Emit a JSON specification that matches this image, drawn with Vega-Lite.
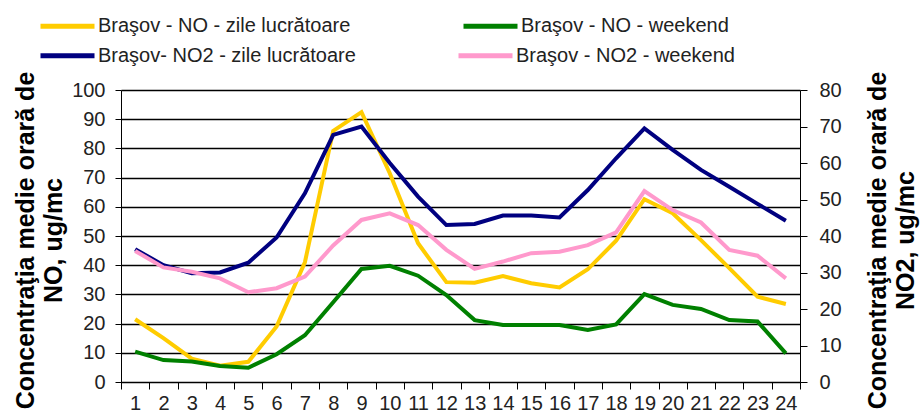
{
  "$schema": "https://vega.github.io/schema/vega-lite/v6.json",
  "width": 679,
  "height": 292,
  "autosize": {"type": "none"},
  "padding": {"left": 121, "top": 90, "right": 120, "bottom": 34},
  "background": "white",
  "config": {
    "view": {"stroke": null},
    "font": "Liberation Sans",
    "axis": {"labelFont": "Liberation Sans", "titleFont": "Liberation Sans"},
    "legend": {
      "labelFont": "Liberation Sans",
      "title": null,
      "orient": "none",
      "direction": "horizontal",
      "columns": 2,
      "symbolType": "stroke",
      "symbolSize": 2916,
      "symbolStrokeWidth": 5,
      "labelFontSize": 20,
      "labelColor": "#222",
      "labelOffset": 1,
      "labelLimit": 400,
      "padding": 0
    }
  },
  "data": {
    "values": [
      {"hour": 1, "series": "Braşov - NO - zile lucrătoare", "value": 21.5},
      {"hour": 2, "series": "Braşov - NO - zile lucrătoare", "value": 15},
      {"hour": 3, "series": "Braşov - NO - zile lucrătoare", "value": 8},
      {"hour": 4, "series": "Braşov - NO - zile lucrătoare", "value": 5.6},
      {"hour": 5, "series": "Braşov - NO - zile lucrătoare", "value": 6.9},
      {"hour": 6, "series": "Braşov - NO - zile lucrătoare", "value": 19},
      {"hour": 7, "series": "Braşov - NO - zile lucrătoare", "value": 41},
      {"hour": 8, "series": "Braşov - NO - zile lucrătoare", "value": 86},
      {"hour": 9, "series": "Braşov - NO - zile lucrătoare", "value": 92.4},
      {"hour": 10, "series": "Braşov - NO - zile lucrătoare", "value": 71.5},
      {"hour": 11, "series": "Braşov - NO - zile lucrătoare", "value": 47.5},
      {"hour": 12, "series": "Braşov - NO - zile lucrătoare", "value": 34.2},
      {"hour": 13, "series": "Braşov - NO - zile lucrătoare", "value": 34},
      {"hour": 14, "series": "Braşov - NO - zile lucrătoare", "value": 36.3},
      {"hour": 15, "series": "Braşov - NO - zile lucrătoare", "value": 33.8},
      {"hour": 16, "series": "Braşov - NO - zile lucrătoare", "value": 32.4},
      {"hour": 17, "series": "Braşov - NO - zile lucrătoare", "value": 38.6},
      {"hour": 18, "series": "Braşov - NO - zile lucrătoare", "value": 48.4},
      {"hour": 19, "series": "Braşov - NO - zile lucrătoare", "value": 62.6},
      {"hour": 20, "series": "Braşov - NO - zile lucrătoare", "value": 57.8},
      {"hour": 21, "series": "Braşov - NO - zile lucrătoare", "value": 48.6},
      {"hour": 22, "series": "Braşov - NO - zile lucrătoare", "value": 39},
      {"hour": 23, "series": "Braşov - NO - zile lucrătoare", "value": 29.2},
      {"hour": 24, "series": "Braşov - NO - zile lucrătoare", "value": 26.7},
      {"hour": 1, "series": "Braşov - NO - weekend", "value": 10.4},
      {"hour": 2, "series": "Braşov - NO - weekend", "value": 7.5},
      {"hour": 3, "series": "Braşov - NO - weekend", "value": 7},
      {"hour": 4, "series": "Braşov - NO - weekend", "value": 5.5},
      {"hour": 5, "series": "Braşov - NO - weekend", "value": 4.9},
      {"hour": 6, "series": "Braşov - NO - weekend", "value": 9.5},
      {"hour": 7, "series": "Braşov - NO - weekend", "value": 16},
      {"hour": 8, "series": "Braşov - NO - weekend", "value": 27.3},
      {"hour": 9, "series": "Braşov - NO - weekend", "value": 38.7},
      {"hour": 10, "series": "Braşov - NO - weekend", "value": 39.8},
      {"hour": 11, "series": "Braşov - NO - weekend", "value": 36.4},
      {"hour": 12, "series": "Braşov - NO - weekend", "value": 29.8},
      {"hour": 13, "series": "Braşov - NO - weekend", "value": 21.2},
      {"hour": 14, "series": "Braşov - NO - weekend", "value": 19.5},
      {"hour": 15, "series": "Braşov - NO - weekend", "value": 19.5},
      {"hour": 16, "series": "Braşov - NO - weekend", "value": 19.5},
      {"hour": 17, "series": "Braşov - NO - weekend", "value": 17.8},
      {"hour": 18, "series": "Braşov - NO - weekend", "value": 19.7},
      {"hour": 19, "series": "Braşov - NO - weekend", "value": 30.1},
      {"hour": 20, "series": "Braşov - NO - weekend", "value": 26.4},
      {"hour": 21, "series": "Braşov - NO - weekend", "value": 25},
      {"hour": 22, "series": "Braşov - NO - weekend", "value": 21.2},
      {"hour": 23, "series": "Braşov - NO - weekend", "value": 20.7},
      {"hour": 24, "series": "Braşov - NO - weekend", "value": 9.8},
      {"hour": 1, "series": "Braşov- NO2 - zile lucrătoare", "value": 36.4},
      {"hour": 2, "series": "Braşov- NO2 - zile lucrătoare", "value": 32},
      {"hour": 3, "series": "Braşov- NO2 - zile lucrătoare", "value": 29.8},
      {"hour": 4, "series": "Braşov- NO2 - zile lucrătoare", "value": 30},
      {"hour": 5, "series": "Braşov- NO2 - zile lucrătoare", "value": 32.7},
      {"hour": 6, "series": "Braşov- NO2 - zile lucrătoare", "value": 39.6},
      {"hour": 7, "series": "Braşov- NO2 - zile lucrătoare", "value": 51.7},
      {"hour": 8, "series": "Braşov- NO2 - zile lucrătoare", "value": 67.7},
      {"hour": 9, "series": "Braşov- NO2 - zile lucrătoare", "value": 70},
      {"hour": 10, "series": "Braşov- NO2 - zile lucrătoare", "value": 60},
      {"hour": 11, "series": "Braşov- NO2 - zile lucrătoare", "value": 50.8},
      {"hour": 12, "series": "Braşov- NO2 - zile lucrătoare", "value": 43},
      {"hour": 13, "series": "Braşov- NO2 - zile lucrătoare", "value": 43.3},
      {"hour": 14, "series": "Braşov- NO2 - zile lucrătoare", "value": 45.6},
      {"hour": 15, "series": "Braşov- NO2 - zile lucrătoare", "value": 45.6},
      {"hour": 16, "series": "Braşov- NO2 - zile lucrătoare", "value": 45.1},
      {"hour": 17, "series": "Braşov- NO2 - zile lucrătoare", "value": 52.6},
      {"hour": 18, "series": "Braşov- NO2 - zile lucrătoare", "value": 61.3},
      {"hour": 19, "series": "Braşov- NO2 - zile lucrătoare", "value": 69.5},
      {"hour": 20, "series": "Braşov- NO2 - zile lucrătoare", "value": 63.6},
      {"hour": 21, "series": "Braşov- NO2 - zile lucrătoare", "value": 58.1},
      {"hour": 22, "series": "Braşov- NO2 - zile lucrătoare", "value": 53.5},
      {"hour": 23, "series": "Braşov- NO2 - zile lucrătoare", "value": 48.8},
      {"hour": 24, "series": "Braşov- NO2 - zile lucrătoare", "value": 44.2},
      {"hour": 1, "series": "Braşov - NO2 - weekend", "value": 35.9},
      {"hour": 2, "series": "Braşov - NO2 - weekend", "value": 31.4},
      {"hour": 3, "series": "Braşov - NO2 - weekend", "value": 30.2},
      {"hour": 4, "series": "Braşov - NO2 - weekend", "value": 28.4},
      {"hour": 5, "series": "Braşov - NO2 - weekend", "value": 24.6},
      {"hour": 6, "series": "Braşov - NO2 - weekend", "value": 25.7},
      {"hour": 7, "series": "Braşov - NO2 - weekend", "value": 28.9},
      {"hour": 8, "series": "Braşov - NO2 - weekend", "value": 37.4},
      {"hour": 9, "series": "Braşov - NO2 - weekend", "value": 44.4},
      {"hour": 10, "series": "Braşov - NO2 - weekend", "value": 46.2},
      {"hour": 11, "series": "Braşov - NO2 - weekend", "value": 43},
      {"hour": 12, "series": "Braşov - NO2 - weekend", "value": 36.2},
      {"hour": 13, "series": "Braşov - NO2 - weekend", "value": 31},
      {"hour": 14, "series": "Braşov - NO2 - weekend", "value": 33},
      {"hour": 15, "series": "Braşov - NO2 - weekend", "value": 35.3},
      {"hour": 16, "series": "Braşov - NO2 - weekend", "value": 35.7},
      {"hour": 17, "series": "Braşov - NO2 - weekend", "value": 37.5},
      {"hour": 18, "series": "Braşov - NO2 - weekend", "value": 41},
      {"hour": 19, "series": "Braşov - NO2 - weekend", "value": 52.3},
      {"hour": 20, "series": "Braşov - NO2 - weekend", "value": 47.1},
      {"hour": 21, "series": "Braşov - NO2 - weekend", "value": 43.7},
      {"hour": 22, "series": "Braşov - NO2 - weekend", "value": 36.2},
      {"hour": 23, "series": "Braşov - NO2 - weekend", "value": 34.6},
      {"hour": 24, "series": "Braşov - NO2 - weekend", "value": 28.4}
    ]
  },
  "encoding": {
    "x": {
      "field": "hour",
      "type": "ordinal",
      "bandPosition": 0.5,
      "scale": {"type": "band", "paddingInner": 0, "paddingOuter": 0},
      "axis": {
        "title": null,
        "labelAngle": 0,
        "tickBand": "extent",
        "tickSize": 7,
        "tickColor": "#000",
        "domainColor": "#000",
        "labelFontSize": 20,
        "labelColor": "#222",
        "labelPadding": 4,
        "labelOverlap": false,
        "grid": false
      }
    }
  },
  "layer": [
    {
      "transform": [{"filter": {"field": "series", "oneOf": ["Braşov - NO - zile lucrătoare", "Braşov - NO - weekend"]}}],
      "mark": {"type": "line", "strokeWidth": 4},
      "encoding": {
        "color": {
          "field": "series",
          "type": "nominal",
          "scale": {
            "domain": ["Braşov - NO - zile lucrătoare", "Braşov - NO - weekend"],
            "range": ["#FFCC00", "#008000"]
          },
          "legend": {"legendX": -83, "legendY": -93.5, "columnPadding": 102}
        },
        "y": {
          "field": "value",
          "type": "quantitative",
          "scale": {"domain": [0, 100]},
          "axis": {
            "orient": "left",
            "values": [0, 10, 20, 30, 40, 50, 60, 70, 80, 90, 100],
            "grid": true,
            "gridColor": "#000",
            "gridWidth": 1.3,
            "gridOpacity": 1,
            "domainColor": "#000",
            "tickColor": "#000",
            "tickSize": 6,
            "labelFontSize": 20,
            "labelColor": "#222",
            "labelPadding": 10,
            "title": ["Concentraţia medie orară de", "NO, ug/mc"],
            "titleFontSize": 25,
            "titleFontWeight": "bold",
            "titleColor": "#000",
            "titleAngle": -90,
            "titleAlign": "center",
            "titleBaseline": "middle",
            "titleLineHeight": 28,
            "titleX": -95.5,
            "titleY": 150
          }
        }
      }
    },
    {
      "transform": [{"filter": {"field": "series", "oneOf": ["Braşov- NO2 - zile lucrătoare", "Braşov - NO2 - weekend"]}}],
      "mark": {"type": "line", "strokeWidth": 4},
      "encoding": {
        "color": {
          "field": "series",
          "type": "nominal",
          "scale": {
            "domain": ["Braşov- NO2 - zile lucrătoare", "Braşov - NO2 - weekend"],
            "range": ["#000080", "#FF99CC"]
          },
          "legend": {"legendX": -83, "legendY": -64, "columnPadding": 92}
        },
        "y": {
          "field": "value",
          "type": "quantitative",
          "scale": {"domain": [0, 80]},
          "axis": {
            "orient": "right",
            "values": [0, 10, 20, 30, 40, 50, 60, 70, 80],
            "grid": false,
            "domainColor": "#000",
            "tickColor": "#000",
            "tickSize": 7,
            "labelFontSize": 20,
            "labelColor": "#222",
            "labelPadding": 12,
            "title": ["Concentraţia medie orară de", "NO2, ug/mc"],
            "titleFontSize": 25,
            "titleFontWeight": "bold",
            "titleColor": "#000",
            "titleAngle": -90,
            "titleAlign": "center",
            "titleBaseline": "middle",
            "titleLineHeight": 28,
            "titleX": 77,
            "titleY": 150
          }
        }
      }
    }
  ],
  "resolve": {"scale": {"y": "independent", "color": "independent"}, "legend": {"color": "independent"}}
}
